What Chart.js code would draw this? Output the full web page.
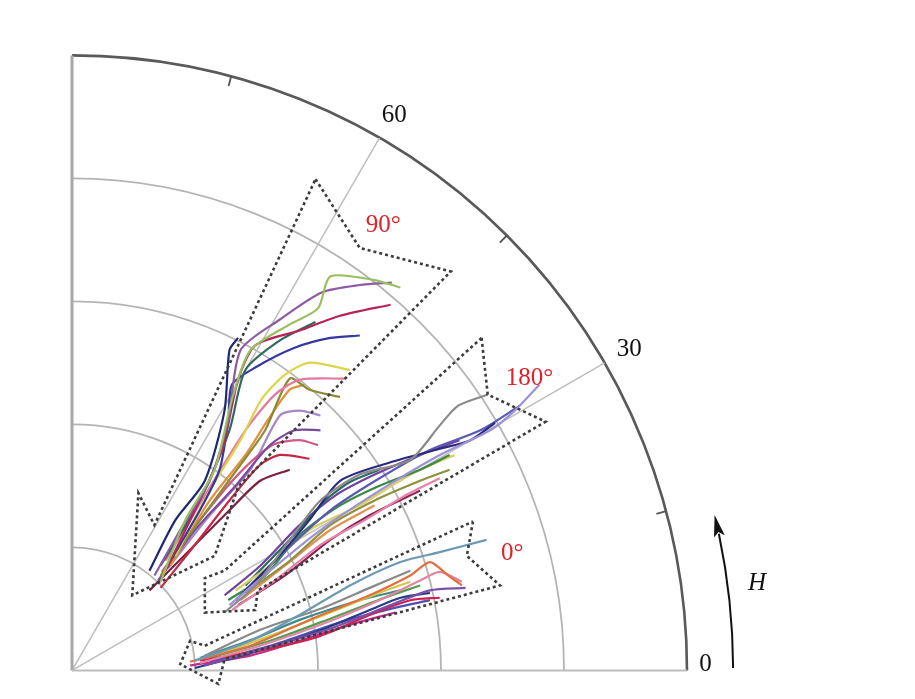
<!DOCTYPE html>
<html>
<head>
<meta charset="utf-8">
<script src="https://cdn.jsdelivr.net/npm/chart.js@4.4.1/dist/chart.umd.min.js"></script>
<style>
  body { margin: 0; background: #fff; }
  canvas { display: block; }
</style>
</head>
<body>
<canvas id="myChart" width="915" height="699"></canvas>
<script>
// a*, b* readings, one list of points per curve, grouped by hue treatment
const hue90 = [
  [[7.2,7.2],[9.2,12.2],[11.6,16.3],[13.0,22.0],[14.5,26.0],[17.7,28.1],[20.0,29.4],[21.0,32.0],[24.6,31.7],[26.7,31.1]],
  [[6.7,7.7],[8.8,11.4],[11.2,15.4],[12.7,20.3],[13.7,26.0],[16.9,28.5],[20.3,30.7],[23.4,31.3],[26.0,31.5]],
  [[7.6,8.1],[10.0,13.0],[12.2,17.9],[13.5,23.6],[14.9,26.4],[18.5,27.6],[21.8,28.8],[25.9,29.7]],
  [[7.2,8.5],[10.4,13.8],[12.8,19.5],[14.1,24.4],[16.9,26.8],[19.8,28.3]],
  [[8.0,8.9],[10.4,13.0],[12.0,16.3],[12.7,20.3],[13.0,23.2],[14.9,24.6],[18.1,26.2],[21.0,27.0],[23.4,27.2]],
  [[6.3,8.1],[8.4,12.2],[10.8,15.4],[12.4,21.1],[12.8,26.0],[13.5,27.0]],
  [[8.4,9.3],[11.2,14.6],[13.7,18.7],[15.4,22.0],[17.3,24.0],[19.3,25.0],[22.6,24.4]],
  [[7.6,8.9],[10.8,14.2],[14.1,19.5],[16.5,22.4],[18.5,23.6],[22.2,23.7]],
  [[7.2,7.7],[10.4,12.2],[13.7,16.7],[15.7,19.5],[17.7,23.7],[19.3,22.8],[21.8,22.2]],
  [[8.0,8.5],[11.2,13.8],[14.1,17.5],[15.9,20.3],[17.7,22.8],[18.9,23.2]],
  [[7.0,7.3],[10.0,11.4],[13.3,15.0],[16.1,18.3],[18.1,19.5],[20.2,19.5]],
  [[7.3,8.0],[10.4,12.2],[13.5,15.9],[16.3,18.3],[18.5,18.7],[20.0,18.3]],
  [[7.8,8.3],[11.2,12.6],[14.5,16.3],[16.9,20.7],[18.5,21.1],[20.2,20.7]],
  [[7.2,6.7],[10.0,10.2],[12.8,13.8],[15.3,16.7],[16.9,17.5],[19.3,17.2]],
  [[6.3,6.5],[9.6,9.8],[12.8,13.0],[15.3,15.4],[17.7,16.3]]
];
const hue180 = [
  [[12.4,4.7],[14.9,6.9],[17.7,10.6],[20.2,13.8],[23.4,15.9],[27.5,17.1],[29.9,19.9],[31.4,21.5],[33.8,22.4]],
  [[12.8,5.3],[16.1,8.1],[20.2,11.4],[25.0,14.6],[29.9,17.5],[34.0,19.5],[36.0,21.1],[38.0,23.2]],
  [[13.3,5.7],[16.5,8.9],[19.3,12.2],[21.8,15.4],[25.9,16.9],[29.9,18.0],[32.4,18.7],[34.4,20.1]],
  [[13.7,6.1],[16.9,9.3],[21.0,13.0],[25.0,15.6],[29.1,17.9],[33.2,19.5],[36.4,21.5]],
  [[12.7,5.7],[15.7,7.7],[18.5,11.0],[21.8,13.4],[25.0,15.0],[28.3,16.3],[30.7,17.5]],
  [[13.3,6.5],[16.1,8.5],[19.3,11.4],[23.4,13.4],[27.5,15.9],[31.1,17.5]],
  [[14.1,6.3],[17.7,8.9],[21.0,11.8],[24.6,13.8],[28.3,15.4],[30.7,16.3]],
  [[13.0,4.9],[16.5,7.3],[20.2,10.2],[23.8,12.2],[27.1,14.2],[29.9,15.6]],
  [[13.5,5.3],[17.3,7.7],[21.0,10.6],[24.2,12.6],[28.3,14.6]],
  [[14.1,6.9],[17.7,10.6],[20.6,13.8],[22.6,15.3],[25.0,16.3]],
  [[12.4,6.1],[15.3,8.5],[18.5,11.8],[21.4,14.2],[24.6,15.9],[28.3,17.5],[31.5,18.7]],
  [[13.7,5.7],[17.3,8.5],[21.0,11.4],[24.6,13.4]]
];
const hue0 = [
  [[10.0,0.8],[14.5,2.4],[18.5,4.5],[22.6,6.9],[26.7,8.8],[29.9,9.6],[33.7,10.6]],
  [[9.6,0.7],[14.5,2.0],[19.3,4.1],[24.2,6.1],[27.5,7.7],[29.1,8.8],[30.6,7.7],[31.7,6.9]],
  [[10.4,0.6],[15.3,2.0],[20.2,3.7],[25.0,5.7],[28.3,7.3],[29.9,8.0],[31.7,7.2]],
  [[10.8,0.4],[15.7,1.8],[21.0,3.4],[25.9,5.3],[29.1,6.5],[32.0,6.7]],
  [[10.4,0.8],[15.3,1.6],[20.2,2.8],[24.2,4.5],[27.5,5.7],[29.9,5.9]],
  [[11.2,1.0],[16.1,2.4],[21.0,4.2],[25.4,5.9],[28.3,6.9]],
  [[10.0,0.2],[14.9,1.5],[19.8,3.1],[24.2,4.9],[26.7,5.9],[29.1,6.3]],
  [[11.6,1.2],[16.1,2.8],[21.0,4.7],[25.0,6.3],[27.5,7.2]],
  [[10.8,1.2],[15.3,3.3],[20.2,5.0],[24.2,6.7],[27.5,8.1]],
  [[9.6,0.4],[14.5,1.2],[18.5,2.4],[22.6,3.7],[26.3,4.7]],
  [[11.2,0.7],[16.1,2.0],[21.8,3.9],[25.9,5.0],[29.1,5.7]],
  [[10.4,1.0],[14.9,2.6],[18.5,4.1],[23.4,5.7],[26.7,6.5]]
];

// dashed outlines around each group
const outline90 = [[19.8,39.9],[23.4,34.3],[30.8,32.4],[13.5,14.9],[11.6,9.3],[4.9,6.1],[5.4,14.4],[6.7,11.8]];
const outline180 = [[33.3,27.0],[33.8,22.4],[38.5,20.2],[15.1,6.5],[14.9,4.9],[10.8,4.7],[10.8,7.5],[12.4,8.1]];
const outline0 = [[32.6,12.1],[32.1,9.3],[34.8,6.9],[12.4,0.9],[11.9,-1.1],[8.8,0.5],[9.6,2.4],[10.8,2.0]];

const ringRadii = [10, 20, 30, 40, 50];
const angleTicks = [0, 30, 60];
const minorTicks = [15, 45, 75];
const groupLabels = ['90°', '180°', '0°'];
const arrowLabel = 'H';

const colors90 = ['#98c060', '#8e5aa6', '#b8245a', '#2f6a5a', '#3438a0', '#1e2870', '#ddd44a', '#e577a0', '#8c8a34', '#e2913c', '#7a4a9e', '#d05a8a', '#a488c8', '#c42844', '#7e2040'];
const colors180 = ['#8a8a8a', '#9c92d4', '#2a2a80', '#5a5ab4', '#3a8a44', '#d8d060', '#909040', '#e284aa', '#902050', '#2a6a60', '#7040a0', '#e09050'];
const colors0 = ['#6a9ab4', '#e07040', '#e584a4', '#7a50a8', '#d02050', '#50a050', '#2a3a8a', '#d0c850', '#8a8a8a', '#c0308a', '#5050b0', '#408a8a'];

function curve(points, color) {
  return {
    data: points.map(p => ({x: p[0], y: p[1]})),
    showLine: true,
    borderColor: color,
    borderWidth: 2.2,
    pointRadius: 0,
    tension: 0.25,
    order: 1
  };
}
function outline(points) {
  const closed = points.concat([points[0]]);
  return {
    data: closed.map(p => ({x: p[0], y: p[1]})),
    showLine: true,
    borderColor: '#3c3c3c',
    borderWidth: 2.6,
    borderDash: [3, 3],
    pointRadius: 0,
    tension: 0,
    order: 0
  };
}

const datasets = [outline(outline90), outline(outline180), outline(outline0)]
  .concat(hue90.map((p, i) => curve(p, colors90[i])))
  .concat(hue180.map((p, i) => curve(p, colors180[i])))
  .concat(hue0.map((p, i) => curve(p, colors0[i])));

// where the texts sit (a*, b*)
const labelSpots = {
  angle: [[51.5, 0.5], [45.3, 26.1], [26.2, 45.1]],
  group: [[25.3, 36.1], [37.2, 23.7], [35.8, 9.5]],
  arrowText: [55.7, 7.1]
};

const polarGrid = {
  id: 'polarGrid',
  beforeDatasetsDraw(chart) {
    const {ctx, scales: {x, y}} = chart;
    const cx = x.getPixelForValue(0), cy = y.getPixelForValue(0);
    const u = x.getPixelForValue(1) - cx;
    const R = 50 * u;
    ctx.save();
    ctx.lineCap = 'butt';
    // rings
    ringRadii.forEach(r => {
      ctx.beginPath();
      ctx.arc(cx, cy, r * u, -Math.PI / 2, 0);
      ctx.strokeStyle = r === 50 ? '#595959' : '#b4b4b4';
      ctx.lineWidth = r === 50 ? 2.6 : 1.8;
      ctx.stroke();
    });
    // radial lines
    ctx.strokeStyle = '#bdbdbd';
    ctx.lineWidth = 1.5;
    angleTicks.filter(a => a > 0).forEach(a => {
      const t = a * Math.PI / 180;
      ctx.beginPath();
      ctx.moveTo(cx, cy);
      ctx.lineTo(cx + R * Math.cos(t), cy - R * Math.sin(t));
      ctx.stroke();
    });
    // axes
    ctx.strokeStyle = '#a8a8a8';
    ctx.lineWidth = 3;
    ctx.beginPath();
    ctx.moveTo(cx, cy);
    ctx.lineTo(cx, cy - R);
    ctx.stroke();
    ctx.strokeStyle = '#bdbdbd';
    ctx.lineWidth = 2;
    ctx.beginPath();
    ctx.moveTo(cx, cy);
    ctx.lineTo(cx + R, cy);
    ctx.stroke();
    // minor ticks on the outer ring
    ctx.strokeStyle = '#555';
    ctx.lineWidth = 1.8;
    minorTicks.forEach(a => {
      const t = a * Math.PI / 180;
      ctx.beginPath();
      ctx.moveTo(cx + R * Math.cos(t), cy - R * Math.sin(t));
      ctx.lineTo(cx + (R - 10) * Math.cos(t), cy - (R - 10) * Math.sin(t));
      ctx.stroke();
    });
    ctx.restore();
  },
  afterDraw(chart) {
    const {ctx, scales: {x, y}} = chart;
    const cx = x.getPixelForValue(0), cy = y.getPixelForValue(0);
    const u = x.getPixelForValue(1) - cx;
    ctx.save();
    ctx.textAlign = 'center';
    ctx.textBaseline = 'middle';
    ctx.font = '25px "Liberation Serif", "DejaVu Serif", serif';
    ctx.fillStyle = '#111';
    angleTicks.forEach((a, i) => {
      const s = labelSpots.angle[i];
      ctx.fillText(String(a), x.getPixelForValue(s[0]), y.getPixelForValue(s[1]));
    });
    ctx.fillStyle = '#e0202a';
    groupLabels.forEach((t, i) => {
      const s = labelSpots.group[i];
      ctx.fillText(t, x.getPixelForValue(s[0]), y.getPixelForValue(s[1]));
    });
    ctx.fillStyle = '#111';
    ctx.font = 'italic 25px "Liberation Serif", "DejaVu Serif", serif';
    ctx.fillText(arrowLabel, x.getPixelForValue(labelSpots.arrowText[0]), y.getPixelForValue(labelSpots.arrowText[1]));

    // curved arrow for increasing hue angle
    const rA = 53.75 * u;
    const a0 = 0.2 * Math.PI / 180, a1 = 13.6 * Math.PI / 180;
    const headLen = 22, headHalf = 5.5;
    const ab = a1 - headLen / rA;
    ctx.strokeStyle = '#111';
    ctx.lineWidth = 2;
    ctx.beginPath();
    ctx.arc(cx, cy, rA, -a0, -ab - 0.004, true);
    ctx.stroke();
    const tx = cx + rA * Math.cos(a1), ty = cy - rA * Math.sin(a1);
    const bx = cx + rA * Math.cos(ab), by = cy - rA * Math.sin(ab);
    const dx = tx - bx, dy = ty - by, len = Math.hypot(dx, dy);
    const nx = -dy / len, ny = dx / len;
    ctx.fillStyle = '#111';
    ctx.beginPath();
    ctx.moveTo(tx, ty);
    ctx.lineTo(bx + nx * headHalf, by + ny * headHalf);
    ctx.lineTo(bx + dx * 0.2, by + dy * 0.2);
    ctx.lineTo(bx - nx * headHalf, by - ny * headHalf);
    ctx.closePath();
    ctx.fill();
    ctx.restore();
  }
};

const ctx = document.getElementById('myChart');
const myChart = new Chart(ctx, {
  type: 'scatter',
  data: { datasets: datasets },
  options: {
    responsive: false,
    animation: false,
    devicePixelRatio: 1,
    layout: { padding: { left: 72, right: 105, top: 24, bottom: 4 } },
    scales: {
      x: { type: 'linear', min: 0, max: 60, display: false },
      y: { type: 'linear', min: -2, max: 52.5, display: false }
    },
    plugins: {
      legend: { display: false },
      tooltip: { enabled: false }
    }
  },
  plugins: [polarGrid]
});
</script>
</body>
</html>
